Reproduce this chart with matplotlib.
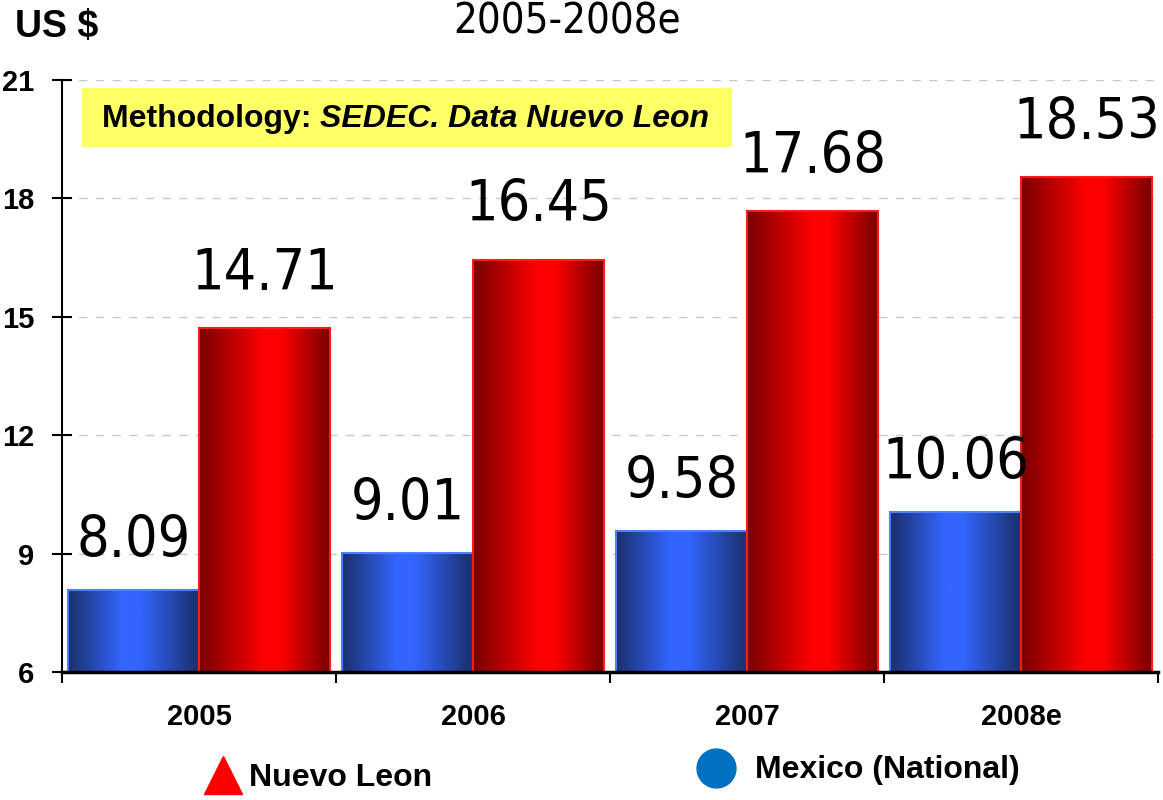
import numpy as np
import matplotlib
matplotlib.use("Agg")
import matplotlib.pyplot as plt
from matplotlib.colors import LinearSegmentedColormap
from matplotlib.lines import Line2D
from matplotlib.patches import Rectangle

# data
years = ["2005", "2006", "2007", "2008e"]
mexico = [8.09, 9.01, 9.58, 10.06]
nuevo_leon = [14.71, 16.45, 17.68, 18.53]
yticks = [6, 9, 12, 15, 18, 21]

plt.rcParams["font.family"] = ["Liberation Sans", "DejaVu Sans"]
NARROW = dict(family="DejaVu Sans", fontstretch="condensed")

blue_cmap = LinearSegmentedColormap.from_list(
    "bl", [(0, "#1b2f6c"), (0.42, "#3366ff"), (0.55, "#3366ff"), (1, "#1b2f6c")])
red_cmap = LinearSegmentedColormap.from_list(
    "rd", [(0, "#780000"), (0.5, "#ff0000"), (0.62, "#ff0000"), (1, "#780000")])
grad = np.linspace(0, 1, 256).reshape(1, -1)

fig = plt.figure(figsize=(11.63, 8.0), dpi=100)
ax = fig.add_axes([0.0533, 0.16, 0.9424, 0.74])

x = np.arange(len(years))
w = 0.478
ymin, ymax = 6, 21

def gradient_bars(xpos, vals, cmap, edge):
    bars = ax.bar(xpos, vals, w, color="none", edgecolor=edge, linewidth=1.5, zorder=3)
    for b, v in zip(bars, vals):
        x0 = b.get_x()
        ax.imshow(grad, cmap=cmap, aspect="auto", zorder=2,
                  extent=[x0, x0 + w, ymin, v], interpolation="bicubic")
    return bars

gradient_bars(x - w / 2, mexico, blue_cmap, "#4d7fff")
gradient_bars(x + w / 2, nuevo_leon, red_cmap, "#ff1a1a")

for xi, v in zip(x - w / 2, mexico):
    ax.annotate(f"{v:.2f}", (xi, v), xytext=(0, 15), textcoords="offset points",
                ha="center", va="bottom", fontsize=41, **NARROW)
for xi, v in zip(x + w / 2, nuevo_leon):
    ax.annotate(f"{v:.2f}", (xi, v), xytext=(0, 19), textcoords="offset points",
                ha="center", va="bottom", fontsize=41, **NARROW)

ax.set_xlim(-0.5, 3.5)
ax.set_ylim(ymin, ymax)
ax.set_yticks(yticks)
ax.set_yticklabels([str(t) for t in yticks], fontsize=21, fontweight="bold")
ax.tick_params(axis="y", direction="inout", length=14, width=1.5, pad=13)
ax.set_xticks(np.arange(-0.5, 4, 1))
ax.set_xticklabels([])
ax.set_xticks(x, minor=True)
ax.set_xticklabels(years, minor=True, fontsize=21, fontweight="bold")
ax.tick_params(axis="x", which="major", length=8, width=1.5)
ax.tick_params(axis="x", which="minor", length=0, pad=22)
for t in yticks[1:]:
    ax.axhline(t, color="#c8c8c8", lw=1, dashes=(6, 6), zorder=1)
for s in ["top", "right"]:
    ax.spines[s].set_visible(False)
ax.spines["left"].set_linewidth(1.5)
ax.spines["bottom"].set_linewidth(2.5)
ax.spines["bottom"].set_zorder(4)

# methodology box
ax.add_patch(Rectangle((-0.427, 19.30), 2.372, 1.50, fc="#ffff66", ec="none", zorder=5))
t1 = ax.text(-0.355, 20.02, "Methodology: ", fontsize=23, fontweight="bold",
             va="center", zorder=6)
ax.annotate("SEDEC. Data Nuevo Leon", xy=(1, 0.5), xycoords=t1, va="center",
            fontsize=23, fontweight="bold", style="italic", zorder=6)

fig.text(0.013, 0.966, "US $", fontsize=27, fontweight="bold", va="center")
fig.text(0.488, 0.973, "2005-2008e", fontsize=30, ha="center", va="center", **NARROW)

# legend
fig.add_artist(Line2D([0.192], [0.031], marker="^", markersize=27, color="#ff0000",
                      transform=fig.transFigure))
fig.text(0.214, 0.0275, "Nuevo Leon", fontsize=23, fontweight="bold", va="center")
fig.add_artist(Line2D([0.616], [0.04], marker="o", markersize=28, color="#0070c0",
                      transform=fig.transFigure))
fig.text(0.649, 0.0375, "Mexico (National)", fontsize=23, fontweight="bold", va="center")

fig.savefig("out.png", dpi=100)
